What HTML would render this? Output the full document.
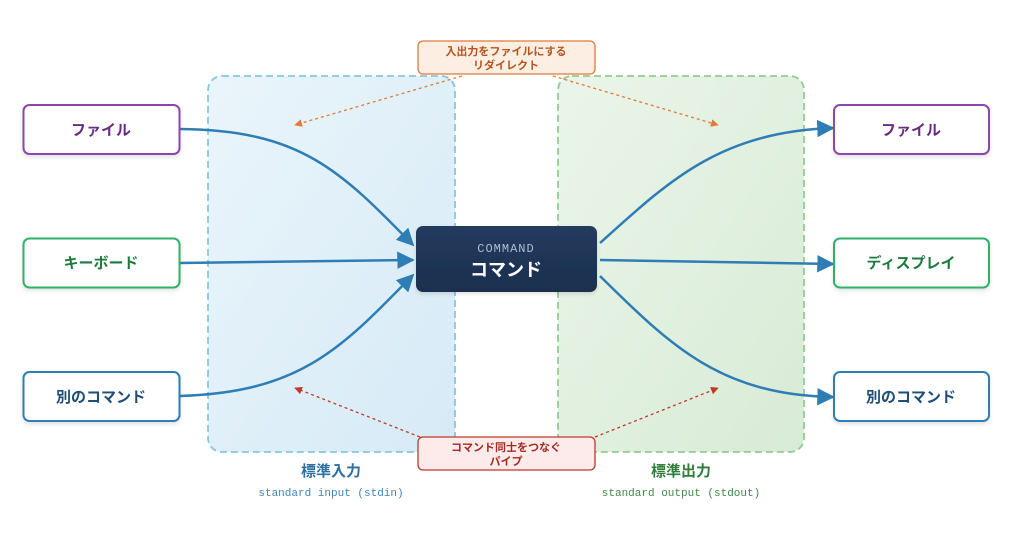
<!DOCTYPE html>
<html><head><meta charset="utf-8"><style>
html,body{margin:0;padding:0;background:#fff;}
svg text{font-family:"Liberation Sans","Noto Sans CJK JP",sans-serif;}
svg text.m{font-family:"Liberation Mono","DejaVu Sans Mono",monospace;}
</style></head><body>
<svg width="1014" height="535" viewBox="0 0 1014 535" xmlns="http://www.w3.org/2000/svg">
<defs>
<linearGradient id="gl" x1="0" y1="0" x2="1" y2="1"><stop offset="0" stop-color="#eaf5fb"/><stop offset="1" stop-color="#d6eaf6"/></linearGradient>
<linearGradient id="gr" x1="0" y1="0" x2="1" y2="1"><stop offset="0" stop-color="#ebf5ea"/><stop offset="1" stop-color="#d8ebd6"/></linearGradient>
<linearGradient id="gc" x1="0" y1="0" x2="0" y2="1"><stop offset="0" stop-color="#243b5e"/><stop offset="1" stop-color="#1b2f4f"/></linearGradient>
<marker id="ab" viewBox="0 0 10 10" refX="9" refY="5" markerWidth="7" markerHeight="7" orient="auto"><path d="M0,0L10,5L0,10z" fill="#2e7db5"/></marker>
<marker id="ao" viewBox="0 0 10 10" refX="9" refY="5" markerWidth="6" markerHeight="6" orient="auto"><path d="M0,0L10,5L0,10z" fill="#e07b39"/></marker>
<marker id="ar" viewBox="0 0 10 10" refX="9" refY="5" markerWidth="6" markerHeight="6" orient="auto"><path d="M0,0L10,5L0,10z" fill="#c0392b"/></marker>
<filter id="sh" x="-20%" y="-20%" width="140%" height="150%"><feDropShadow dx="0" dy="2" stdDeviation="2" flood-color="#000" flood-opacity="0.12"/></filter>
</defs>
<rect x="208" y="76" width="247" height="376" rx="14" fill="url(#gl)" stroke="#86c8e0" stroke-width="1.8" stroke-dasharray="7,4"/>
<rect x="558" y="76" width="246" height="376" rx="14" fill="url(#gr)" stroke="#94cc92" stroke-width="1.8" stroke-dasharray="7,4"/>

<g fill="none" stroke="#2e7db5" stroke-width="2.5">
<path d="M180,129 C300,130 340,170 413,245" marker-end="url(#ab)"/>
<path d="M180,263 L413,260" marker-end="url(#ab)"/>
<path d="M180,396 C300,392 340,350 413,275" marker-end="url(#ab)"/>
<path d="M600,243 C670,180 720,132 833,128" marker-end="url(#ab)"/>
<path d="M600,260 L833,264" marker-end="url(#ab)"/>
<path d="M600,276 C670,345 720,395 833,397" marker-end="url(#ab)"/>
</g>
<g fill="none" stroke-width="1.3" stroke-dasharray="3,3">
<path d="M462,76 L295,125" stroke="#e07b39" marker-end="url(#ao)"/>
<path d="M553,76 L718,125" stroke="#e07b39" marker-end="url(#ao)"/>
<path d="M420,437 L295,388" stroke="#c0392b" marker-end="url(#ar)"/>
<path d="M595,437 L718,388" stroke="#c0392b" marker-end="url(#ar)"/>
</g>

<rect x="416" y="226" width="181" height="66" rx="7" fill="url(#gc)" filter="url(#sh)"/>
<text class="m" x="506" y="252" text-anchor="middle" font-size="12" fill="#a9bfd6" letter-spacing="1">COMMAND</text>
<text x="506" y="276" text-anchor="middle" font-size="18" font-weight="bold" fill="#fff">コマンド</text>

<g filter="url(#sh)">
<rect x="23.5" y="105" width="156" height="49" rx="6" fill="#fff" stroke="#8e44ad" stroke-width="2"/>
<rect x="23.5" y="238.5" width="156" height="49" rx="6" fill="#fff" stroke="#2fb366" stroke-width="2"/>
<rect x="23.5" y="372" width="156" height="49" rx="6" fill="#fff" stroke="#2e7db5" stroke-width="2"/>
<rect x="834" y="105" width="155" height="49" rx="6" fill="#fff" stroke="#8e44ad" stroke-width="2"/>
<rect x="834" y="238.5" width="155" height="49" rx="6" fill="#fff" stroke="#2fb366" stroke-width="2"/>
<rect x="834" y="372" width="155" height="49" rx="6" fill="#fff" stroke="#2e7db5" stroke-width="2"/>
</g>
<g font-size="15" font-weight="bold" text-anchor="middle">
<text x="101" y="135" fill="#6a2c80">ファイル</text>
<text x="101" y="268" fill="#1e7a3c">キーボード</text>
<text x="101" y="402" fill="#1f4e79">別のコマンド</text>
<text x="911" y="135" fill="#6a2c80">ファイル</text>
<text x="911" y="268" fill="#1e7a3c">ディスプレイ</text>
<text x="911" y="402" fill="#1f4e79">別のコマンド</text>
</g>

<rect x="418" y="41" width="177" height="33" rx="5" fill="#fdeee3" stroke="#e07b39" stroke-width="1.3"/>
<text x="506" y="55" text-anchor="middle" font-size="11" font-weight="bold" fill="#b5541c">入出力をファイルにする</text>
<text x="506" y="69" text-anchor="middle" font-size="11" font-weight="bold" fill="#b5541c">リダイレクト</text>
<rect x="418" y="437" width="177" height="33" rx="5" fill="#fdeaea" stroke="#c0392b" stroke-width="1.3"/>
<text x="506" y="451" text-anchor="middle" font-size="11" font-weight="bold" fill="#a52a22">コマンド同士をつなぐ</text>
<text x="506" y="465" text-anchor="middle" font-size="11" font-weight="bold" fill="#a52a22">パイプ</text>

<text x="331" y="476" text-anchor="middle" font-size="15" font-weight="bold" fill="#2e6fa3">標準入力</text>
<text class="m" x="331" y="496" text-anchor="middle" font-size="11" fill="#3d85b8">standard input (stdin)</text>
<text x="681" y="476" text-anchor="middle" font-size="15" font-weight="bold" fill="#2f7d3a">標準出力</text>
<text class="m" x="681" y="496" text-anchor="middle" font-size="11" fill="#3f8a45">standard output (stdout)</text>
</svg>
</body></html>
